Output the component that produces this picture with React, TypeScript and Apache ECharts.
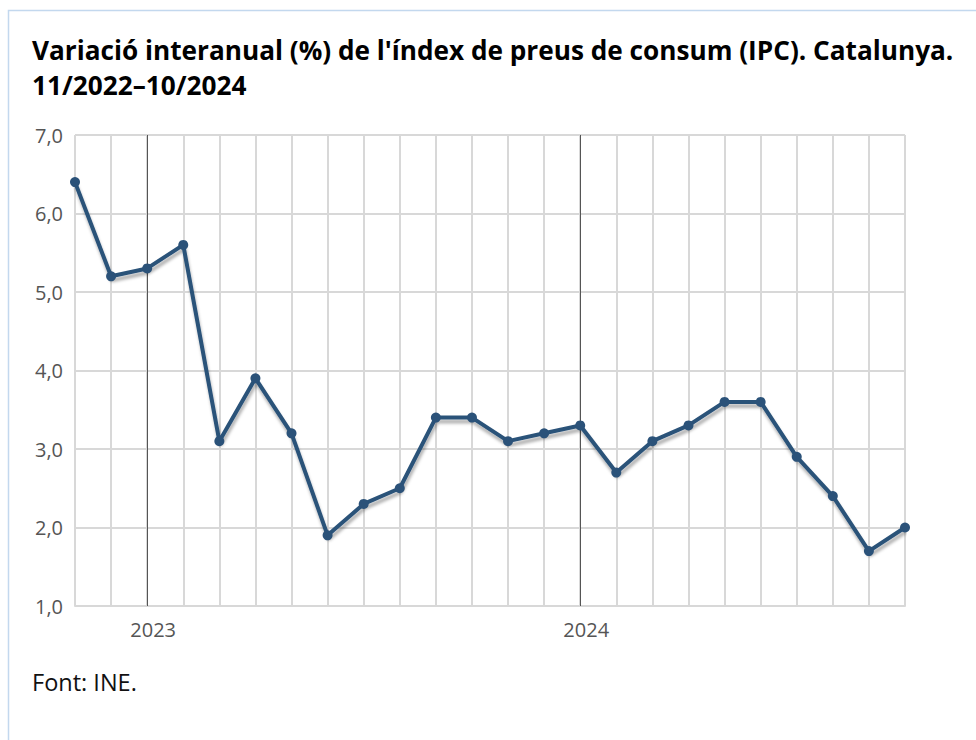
import React, { useEffect, useRef } from "react";
import * as echarts from "echarts";

const months: string[] = [
  "2022-11", "2022-12", "2023-01", "2023-02", "2023-03", "2023-04", "2023-05", "2023-06",
  "2023-07", "2023-08", "2023-09", "2023-10", "2023-11", "2023-12", "2024-01", "2024-02",
  "2024-03", "2024-04", "2024-05", "2024-06", "2024-07", "2024-08", "2024-09", "2024-10",
];
const ipc: number[] = [
  6.4, 5.2, 5.3, 5.6, 3.1, 3.9, 3.2, 1.9, 2.3, 2.5, 3.4, 3.4,
  3.1, 3.2, 3.3, 2.7, 3.1, 3.3, 3.6, 3.6, 2.9, 2.4, 1.7, 2.0,
];
const yearMarks: string[] = ["2023-01", "2024-01"];

const titleText = "Variació interanual (%) de l'índex de preus de consum (IPC). Catalunya.\n11/2022–10/2024";
const sourceText = "Font: INE.";

export default function App() {
  const ref = useRef<HTMLDivElement>(null);
  useEffect(() => {
    if (!ref.current) return;
    const chart = echarts.init(ref.current, null, { renderer: "svg" });
    chart.setOption({
      animation: false,
      backgroundColor: "#ffffff",
      title: {
        text: titleText,
        left: 32,
        top: 32,
        padding: 0,
        textStyle: {
          fontFamily: "Open Sans",
          fontWeight: "bold",
          fontSize: 26.2,
          lineHeight: 35,
          color: "#000000",
        },
      },
      graphic: [
        {
          type: "rect",
          shape: { x: 8.5, y: 10.5, width: 1200, height: 1000 },
          style: { fill: "none", stroke: "#c3d8ee", lineWidth: 1.5 },
          silent: true,
          z: -10,
        },
        {
          type: "text",
          left: 32,
          top: 670,
          style: {
            text: sourceText,
            fontFamily: "Open Sans",
            fontSize: 23.5,
            fill: "#111111",
          },
        },
      ],
      grid: { left: 75, right: 71, top: 135, bottom: 134, containLabel: false },
      xAxis: {
        type: "category",
        data: months,
        boundaryGap: false,
        axisLine: { show: true, lineStyle: { color: "#d8d8d8", width: 2 } },
        axisTick: { show: false },
        axisLabel: {
          interval: 0,
          margin: 13,
          padding: [0, 0, 0, 12],
          fontFamily: "Open Sans",
          fontSize: 20,
          color: "#555555",
          formatter: (v: string) => (v.endsWith("-01") ? v.slice(0, 4) : ""),
        },
        splitLine: { show: true, interval: 0, lineStyle: { color: "#d8d8d8", width: 2 } },
      },
      yAxis: {
        type: "value",
        min: 1,
        max: 7,
        interval: 1,
        axisLine: { show: false },
        axisTick: { show: false },
        axisLabel: {
          margin: 12,
          fontFamily: "Open Sans",
          fontSize: 20,
          color: "#555555",
          formatter: (v: number) => v.toFixed(1).replace(".", ","),
        },
        splitLine: { show: true, lineStyle: { color: "#d8d8d8", width: 2 } },
      },
      series: [
        {
          type: "line",
          data: ipc,
          symbol: "circle",
          symbolSize: 10,
          itemStyle: { color: "#2b5279" },
          lineStyle: {
            color: "#2b5279",
            width: 4,
            shadowColor: "rgba(0,0,0,0.3)",
            shadowBlur: 3,
            shadowOffsetX: 1,
            shadowOffsetY: 4,
          },
          z: 5,
          markLine: {
            silent: true,
            symbol: "none",
            label: { show: false },
            lineStyle: { color: "#555555", width: 1, type: "solid" },
            data: yearMarks.map((m) => ({ xAxis: m })),
            z: 1,
          },
        },
      ],
    });
    return () => chart.dispose();
  }, []);
  return (
    <div
      ref={ref}
      style={{ position: "fixed", left: 0, top: 0, width: 976, height: 740 }}
    />
  );
}
